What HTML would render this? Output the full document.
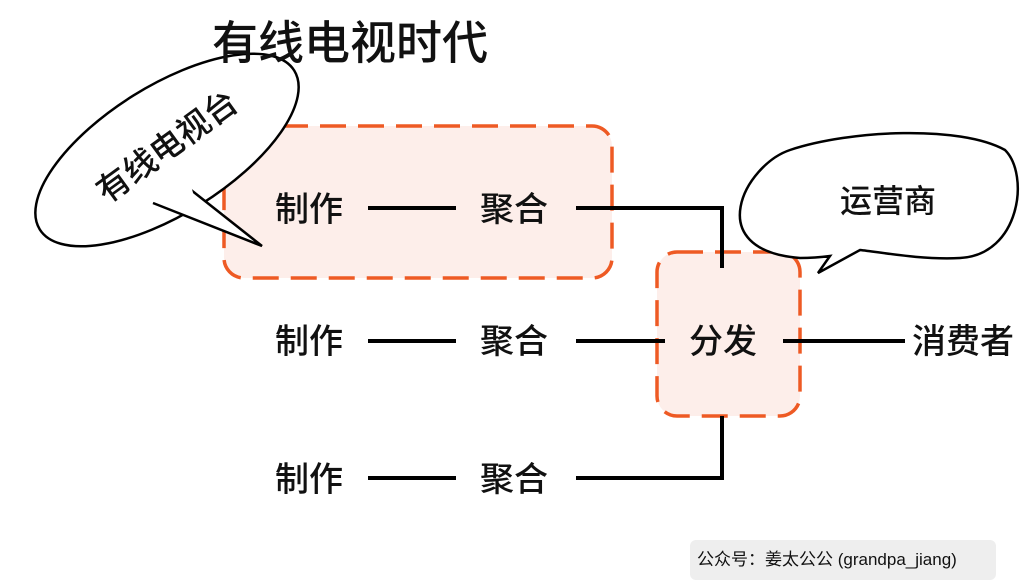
<!DOCTYPE html>
<html><head><meta charset="utf-8"><style>
body{margin:0;width:1025px;height:583px;background:#fff;overflow:hidden;position:relative;font-family:"Liberation Sans","Noto Sans CJK SC",sans-serif;}
.t{position:absolute;font-size:34px;color:#111;line-height:1;font-weight:500;}
</style></head><body>
<svg width="1025" height="583" style="position:absolute;left:0;top:0">
<rect x="224" y="126" width="388" height="152" rx="20" fill="#fdeeea" stroke="#ee5a24" stroke-width="3.5" stroke-dasharray="26 12"/>
<rect x="657" y="252" width="143" height="164" rx="20" fill="#fdeeea" stroke="#ee5a24" stroke-width="3.5" stroke-dasharray="26 12"/>
<g stroke="#000" stroke-width="4" fill="none">
<line x1="368" y1="208" x2="456" y2="208"/>
<polyline points="576,208 722,208 722,268"/>
<line x1="368" y1="341" x2="456" y2="341"/>
<line x1="576" y1="341" x2="665" y2="341"/>
<line x1="783" y1="341" x2="905" y2="341"/>
<line x1="368" y1="478" x2="456" y2="478"/>
<polyline points="576,478 722,478 722,416"/>
</g>
<g stroke="#000" stroke-width="2.5" fill="#fff">
<ellipse cx="167" cy="150" rx="150" ry="64" transform="rotate(-32 167 150)"/>
<path d="M153,203 L262,246 L186,186" fill="#fff"/>
<path d="M150,200 L190,182 L195,200 Z" stroke="none"/>
<path d="M800,258 C700,250 745,165 790,150 C850,130 960,125 1005,150 C1030,175 1020,255 960,258 C920,260 880,252 860,250 L818,273 L830,256 C815,258 805,258 800,258 Z"/>
</g>
</svg>
<div class="t" style="left:212px;top:20px;font-size:46px">有线电视时代</div>
<div class="t" style="left:72px;top:130px;font-size:33px;transform:rotate(-36deg);transform-origin:center;width:190px;text-align:center">有线电视台</div>
<div class="t" style="left:840px;top:185px;font-size:32px">运营商</div>
<div class="t" style="left:275px;top:193px">制作</div>
<div class="t" style="left:480px;top:193px">聚合</div>
<div class="t" style="left:275px;top:325px">制作</div>
<div class="t" style="left:480px;top:325px">聚合</div>
<div class="t" style="left:689px;top:325px">分发</div>
<div class="t" style="left:912px;top:325px">消费者</div>
<div class="t" style="left:275px;top:463px">制作</div>
<div class="t" style="left:480px;top:463px">聚合</div>
<div style="position:absolute;left:690px;top:540px;width:306px;height:40px;background:#eeeeee;border-radius:6px;font-size:17px;line-height:40px;padding-left:7px;box-sizing:border-box;color:#111">公众号：姜太公公 (grandpa_jiang)</div>
</body></html>
